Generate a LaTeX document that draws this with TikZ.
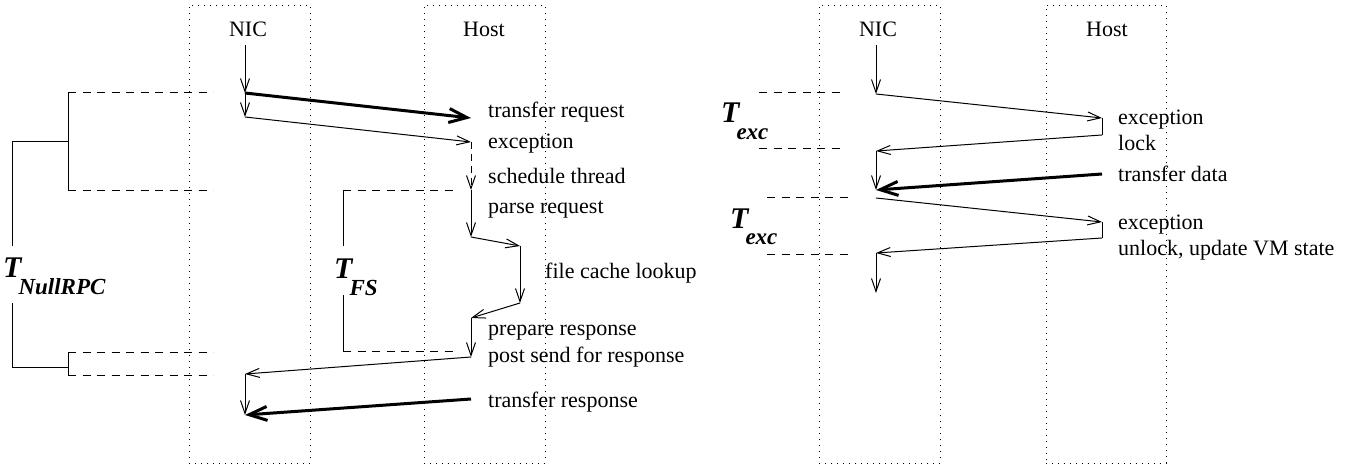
\documentclass[tikz,border=0pt]{standalone}
\usepackage{fontspec}
\setmainfont{Liberation Serif}
\usetikzlibrary{arrows.meta}

\tikzset{
  lane/.style={draw, line width=0.9pt, dash pattern=on 1pt off 5pt},
  msg/.style={line width=1pt, -{Straight Barb[length=13pt,width=9pt]}},
  bigmsg/.style={line width=3pt, -{Straight Barb[length=18pt,width=14pt]}},
  wait/.style={msg, dash pattern=on 7pt off 5pt},
  guide/.style={line width=1pt, dash pattern=on 8pt off 6.5pt},
  brace/.style={line width=1pt},
  lbl/.style={inner sep=0pt, anchor=base west, font=\fontsize{22}{24}\selectfont},
  head/.style={inner sep=0pt, anchor=base, font=\fontsize{22}{24}\selectfont},
  tlbl/.style={inner sep=0pt, anchor=base west, font=\bfseries\itshape}
}
\newcommand\tsub[1]{{\fontsize{30}{30}\selectfont T}\kern-3pt\raisebox{-17pt}{\fontsize{23}{23}\selectfont #1}}

\begin{document}
\begin{tikzpicture}[x=1pt, y=-1pt]
\useasboundingbox (0,0) rectangle (1355,468);

% ---------------- left scenario: Null RPC ----------------
\node[lane, minimum width=121pt, minimum height=458pt, anchor=north west] (nicL) at (189,5) {};
\node[lane, minimum width=121pt, minimum height=458pt, anchor=north west] (hostL) at (424,5) {};
\node[head] (nicLt) at (248,37) {NIC};
\node[head] (hostLt) at (484,37) {Host};

\coordinate (s0) at (245,45);
\coordinate (a1) at (245,93);
\coordinate (a2) at (245,117);
\coordinate (h1) at (471,118);
\coordinate (h2) at (471,142);
\coordinate (h3) at (471,190);
\coordinate (h4) at (471,237);
\coordinate (f1) at (520,246);
\coordinate (f2) at (520,303);
\coordinate (h5) at (471,318);
\coordinate (h6) at (471,357);
\coordinate (n1) at (245,374);
\coordinate (n2) at (245,415);
\coordinate (h7) at (471,399);

\draw[msg] (s0) -- (a1);
\draw[msg] (a1) -- (a2);
\draw[bigmsg] (a1) -- (h1);
\draw[msg] (a2) -- (h2);
\draw[wait] (h2) -- (h3);
\draw[msg] (h3) -- (h4);
\draw[msg] (h4) -- (f1);
\draw[msg] (f1) -- (f2);
\draw[msg] (f2) -- (h5);
\draw[msg] (h5) -- (h6);
\draw[msg] (h6) -- (n1);
\draw[msg] (n1) -- (n2);
\draw[bigmsg] (h7) -- (n2);

\node[lbl] (l1) at (488,118) {transfer request};
\node[lbl] (l2) at (488,149) {exception};
\node[lbl] (l3) at (488,183) {schedule thread};
\node[lbl] (l4) at (488,213) {parse request};
\node[lbl] (l5) at (545,278) {file cache lookup};
\node[lbl] (l6) at (488,335) {prepare response};
\node[lbl] (l7) at (488,362) {post send for response};
\node[lbl] (l8) at (488,407) {transfer response};

% T_NullRPC bracket
\coordinate (b1) at (68,93);
\coordinate (b2) at (68,190);
\coordinate (b3) at (68,352);
\coordinate (b4) at (68,375);
\draw[guide] (b1) -- (213,93);
\draw[guide] (b2) -- (213,190);
\draw[guide] (b3) -- (213,352);
\draw[guide] (b4) -- (213,375);
\draw[brace] (b1) -- (b2);
\draw[brace] (b3) -- (b4);
\draw[brace] (68,142) -- (12,142) -- (12,246);
\draw[brace] (12,303) -- (12,367) -- (68,367);
\node[tlbl] (tnull) at (3,277) {\tsub{NullRPC}};

% T_FS bracket
\coordinate (c1) at (343,190);
\coordinate (c2) at (343,351);
\draw[guide] (c1) -- (457,190);
\draw[guide] (c2) -- (457,351);
\draw[brace] (c1) -- (343,246);
\draw[brace] (343,295) -- (c2);
\node[tlbl] (tfs) at (334,278) {\tsub{FS}};

% ---------------- right scenario: exceptions ----------------
\node[lane, minimum width=121pt, minimum height=458pt, anchor=north west] (nicR) at (819,5) {};
\node[lane, minimum width=120pt, minimum height=458pt, anchor=north west] (hostR) at (1046,5) {};
\node[head] (nicRt) at (878,37) {NIC};
\node[head] (hostRt) at (1107,37) {Host};

\coordinate (t0) at (876,45);
\coordinate (r1) at (876,94);
\coordinate (x1) at (1102,118);
\coordinate (x1b) at (1102,135);
\coordinate (r2) at (876,151);
\coordinate (r3) at (876,190);
\coordinate (d1) at (1102,174);
\coordinate (r4) at (876,198);
\coordinate (x2) at (1102,222);
\coordinate (x2b) at (1102,238);
\coordinate (r5) at (876,253);
\coordinate (r6) at (876,293);

\draw[msg] (t0) -- (r1);
\draw[msg] (r1) -- (x1);
\draw[brace] (x1) -- (x1b);
\draw[msg] (x1b) -- (r2);
\draw[msg] (r2) -- (r3);
\draw[bigmsg] (d1) -- (r3);
\draw[msg] (r4) -- (x2);
\draw[brace] (x2) -- (x2b);
\draw[msg] (x2b) -- (r5);
\draw[msg] (r5) -- (r6);

\node[lbl] (m1) at (1118,125) {exception};
\node[lbl] (m2) at (1118,150) {lock};
\node[lbl] (m3) at (1118,182) {transfer data};
\node[lbl] (m4) at (1118,229) {exception};
\node[lbl] (m5) at (1118,255) {unlock, update VM state};

\coordinate (e1) at (759,93);
\coordinate (e2) at (759,149);
\coordinate (e3) at (767,197);
\coordinate (e4) at (767,254);
\draw[guide] (e1) -- (844,93);
\draw[guide] (e2) -- (844,149);
\draw[guide] (e3) -- (852,197);
\draw[guide] (e4) -- (852,254);
\node[tlbl] (texc1) at (721,123) {\tsub{exc}};
\node[tlbl] (texc2) at (730,228) {\tsub{exc}};
\end{tikzpicture}
\end{document}
